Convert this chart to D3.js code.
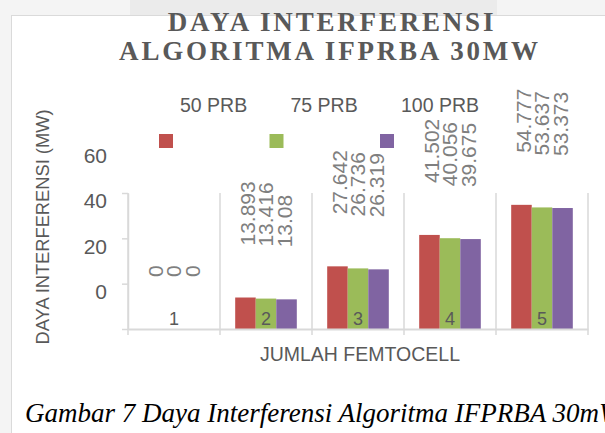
<!DOCTYPE html>
<html>
<head>
<meta charset="utf-8">
<script src="https://cdn.jsdelivr.net/npm/d3@7"></script>
<style>
    body { margin: 0; background: #ffffff; }
</style>
</head>
<body>
<div id="chart"></div>
<script>
// Chart data
var categories = ["1", "2", "3", "4", "5"];
var seriesNames = ["50 PRB", "75 PRB", "100 PRB"];
var prb50 = [0, 13.893, 27.642, 41.502, 54.777];
var prb75 = [0, 13.416, 26.736, 40.056, 53.637];
var prb100 = [0, 13.08, 26.319, 39.675, 53.373];
var yTicks = [0, 20, 40, 60];
var seriesColors = ["#C0504D", "#9BBB59", "#8064A2"];

window.onload = function () {

    var values = [prb50, prb75, prb100];

    var svg = d3.select("#chart").append("svg").attr("width", 605).attr("height", 433);

    //Page background strips (left and top of the chart box).
    svg.append("rect").attr("x", 0).attr("y", 0).attr("width", 605).attr("height", 15).attr("fill", "#f4f4f4");
    svg.append("rect").attr("x", 130).attr("y", 0).attr("width", 367).attr("height", 15).attr("fill", "#ebebeb");
    svg.append("rect").attr("x", 0).attr("y", 0).attr("width", 11).attr("height", 433).attr("fill", "#f4f4f4");
    svg.append("line").attr("x1", 11).attr("x2", 605).attr("y1", 15.5).attr("y2", 15.5).attr("stroke", "#dadada");
    svg.append("line").attr("x1", 11.5).attr("x2", 11.5).attr("y1", 15).attr("y2", 433).attr("stroke", "#dadada");

    //Scales.
    var x = d3.scaleBand().domain(categories).range([128, 588]);
    var xInner = d3.scaleBand().domain(seriesNames).range([0, x.bandwidth()]).paddingOuter(0.74);
    var y = d3.scaleLinear().domain([0, 60]).range([329, 193]);
    var labelShift = d3.scalePoint().domain(seriesNames).range([-18.5, 18.5]);
    var legendX = d3.scalePoint().domain(seriesNames).range([180, 401]);

    var base = y(0);

    //Vertical lines between categories.
    var edges = categories.map(function (c) { return x(c); }).concat([x.range()[1]]);
    svg.selectAll(".vline").data(edges).enter().append("line")
        .attr("x1", function (d) { return d; })
        .attr("x2", function (d) { return d; })
        .attr("y1", y(60)).attr("y2", base + 6)
        .attr("stroke", "#d9d9d9").attr("stroke-width", 1.5);

    //Y axis (labels sit higher than their ticks, as in the picture).
    var yAxis = svg.append("g").attr("transform", "translate(128,0)")
        .call(d3.axisLeft(y).tickValues(yTicks).tickSize(6).tickSizeOuter(0));
    yAxis.select(".domain").attr("stroke", "#d9d9d9").attr("stroke-width", 1.5);
    yAxis.selectAll(".tick line").attr("stroke", "#d9d9d9").attr("stroke-width", 1.5);
    yAxis.selectAll(".tick text")
        .attr("x", -21).attr("dy", "0.35em")
        .attr("transform", "translate(0,-38)")
        .attr("fill", "#595959")
        .style("font-family", "'Liberation Sans', Arial, sans-serif")
        .style("font-size", "21px");

    //Bars.
    seriesNames.forEach(function (name, j) {
        svg.selectAll(".bar" + j).data(values[j]).enter().append("rect")
            .attr("fill", seriesColors[j])
            .attr("x", function (d, i) { return x(categories[i]) + xInner(name); })
            .attr("y", function (d) { return y(d); })
            .attr("width", xInner.bandwidth())
            .attr("height", function (d) { return base - y(d); });
    });

    //X axis with the category numbers inside the plot, drawn over the bars.
    var xAxis = svg.append("g").attr("transform", "translate(0," + base + ")")
        .call(d3.axisBottom(x).tickSize(0).tickSizeOuter(0));
    xAxis.select(".domain").attr("stroke", "#d9d9d9").attr("stroke-width", 2);
    xAxis.selectAll(".tick text")
        .attr("y", -4).attr("dy", 0)
        .attr("fill", "#595959")
        .style("font-family", "'Liberation Sans', Arial, sans-serif")
        .style("font-size", "18px");

    //Data labels, rotated.
    seriesNames.forEach(function (name, j) {
        svg.selectAll(".lab" + j).data(values[j]).enter().append("text")
            .text(function (d) { return d; })
            .attr("transform", function (d, i) {
                var cx = x(categories[i]) + x.bandwidth() / 2 + labelShift(name);
                return "translate(" + cx + "," + (y(d) - 52) + ") rotate(-90)";
            })
            .attr("dy", "0.35em")
            .attr("text-anchor", "start")
            .attr("fill", "#7f7f7f")
            .style("font-family", "'Liberation Sans', Arial, sans-serif")
            .style("font-size", "21px");
    });

    //Legend.
    var legend = svg.selectAll(".legend").data(seriesNames).enter().append("g");
    legend.append("text").text(function (d) { return d; })
        .attr("x", function (d) { return legendX(d); }).attr("y", 112)
        .attr("fill", "#595959")
        .style("font-family", "'Liberation Sans', Arial, sans-serif")
        .style("font-size", "19.5px");
    legend.append("rect")
        .attr("x", function (d) { return legendX(d) - 21; }).attr("y", 134)
        .attr("width", 14).attr("height", 14)
        .attr("fill", function (d, i) { return seriesColors[i]; });

    //Title.
    var title = svg.append("text").attr("text-anchor", "middle")
        .attr("fill", "#595959")
        .style("font-family", "'Liberation Serif', 'Times New Roman', serif")
        .style("font-weight", "bold")
        .style("font-size", "27px")
        .style("letter-spacing", "2.8px");
    title.append("tspan").attr("x", 332).attr("y", 31).text("DAYA INTERFERENSI");
    title.append("tspan").attr("x", 330).attr("y", 60).text("ALGORITMA IFPRBA 30MW");

    //Axis titles.
    svg.append("text").text("DAYA INTERFERENSI (MW)")
        .attr("transform", "translate(43,227) rotate(-90)")
        .attr("text-anchor", "middle").attr("dy", "0.35em")
        .attr("fill", "#595959")
        .style("font-family", "'Liberation Sans', Arial, sans-serif")
        .style("font-size", "18.3px");

    svg.append("text").text("JUMLAH FEMTOCELL")
        .attr("x", 360).attr("y", 361)
        .attr("text-anchor", "middle")
        .attr("fill", "#595959")
        .style("font-family", "'Liberation Sans', Arial, sans-serif")
        .style("font-size", "19.5px");

    //Caption below the chart.
    svg.append("text").text("Gambar 7 Daya Interferensi Algoritma IFPRBA 30mW")
        .attr("x", 25).attr("y", 422)
        .attr("fill", "#000000")
        .style("font-family", "'Liberation Serif', 'Times New Roman', serif")
        .style("font-style", "italic")
        .style("font-size", "27px");
};
</script>
</body>
</html>
